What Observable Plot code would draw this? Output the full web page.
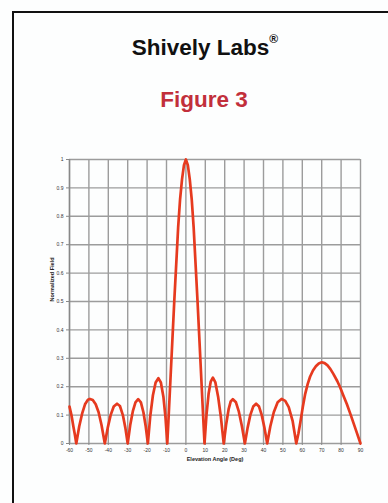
<!DOCTYPE html>
<html>
<head>
<meta charset="utf-8">
<script src="https://cdn.jsdelivr.net/npm/d3@7"></script>
<script src="https://cdn.jsdelivr.net/npm/@observablehq/plot@0.6"></script>
<style>
  html, body { margin:0; padding:0; background:#fdfefe; }
  body { width:388px; height:503px; position:relative; overflow:hidden; font-family:"Liberation Sans", Arial, sans-serif; }
  #frame { position:absolute; left:12px; top:11px; width:400px; height:520px; border-left:2px solid #111; border-top:2px solid #111; }
  #title { position:absolute; left:14px; width:374px; top:27px; text-align:center; font-weight:bold; font-size:22.5px; color:#111; line-height:30px; padding-left:8px; box-sizing:border-box; }
  #title sup { font-size:12px; position:relative; top:-3px; }
  #fig { position:absolute; left:14px; width:374px; top:86px; text-align:center; font-weight:bold; font-size:22.5px; color:#c22f3b; line-height:28px; padding-left:6px; box-sizing:border-box; }
  #chart { position:absolute; left:0; top:140px; }
</style>
</head>
<body>
<div id="frame"></div>
<div id="title">Shively Labs<sup>®</sup></div>
<div id="fig">Figure 3</div>
<div id="chart"></div>
<script>
const xTicks = [-60,-50,-40,-30,-20,-10,0,10,20,30,40,50,60,70,80,90];
const yTicks = [0,0.1,0.2,0.3,0.4,0.5,0.6,0.7,0.8,0.9,1];
const xLabel = "Elevation Angle (Deg)";
const yLabel = "Normalized Field";

const angle = [
  -60,-59,-58,-57.2,-56.5,
  -55,-53.5,-52,-50.5,-49.5,-48,-46.5,-45,-43.5,-41.8,
  -40.3,-38.8,-37.2,-35.5,-34,-32.5,-31.2,-30,
  -28.7,-27.3,-26,-24.6,-23.2,-21.9,-20.7,-19.6,
  -18.4,-17,-15.6,-14.2,-12.9,-11.6,-10.5,-9.6,
  -9,-8,-7,-6,-5,-4,-3,-2,-1,0,1,2,3,4,5,6,7,8,9,9.6,
  10.6,11.7,12.8,13.9,15.2,16.6,18,19.5,
  20.7,22,23.1,24.2,25.8,27.3,28.9,30.4,
  31.8,33.2,34.7,36.2,37.7,39.1,40.5,41.9,
  43.5,45.3,47.3,49.3,51.2,53,55,56.9,
  58,59,60.3,61.5,62.8,64,65.5,67,68.5,70,71.5,73,74.5,76,78,79.5,81,83,85,86.5,88,90
];
const field = [
  0.13,0.1,0.06,0.03,0,
  0.06,0.105,0.138,0.154,0.157,0.153,0.138,0.11,0.065,0,
  0.055,0.1,0.13,0.14,0.132,0.1,0.055,0,
  0.065,0.115,0.145,0.156,0.145,0.11,0.06,0,
  0.095,0.17,0.215,0.23,0.215,0.165,0.09,0,
  0.08,0.22,0.36,0.5,0.63,0.76,0.86,0.93,0.98,1.0,0.98,0.93,0.86,0.76,0.63,0.5,0.36,0.22,0.08,0,
  0.1,0.175,0.218,0.232,0.215,0.165,0.095,0,
  0.065,0.12,0.148,0.156,0.145,0.112,0.06,0,
  0.055,0.1,0.13,0.14,0.13,0.1,0.055,0,
  0.06,0.11,0.145,0.157,0.15,0.128,0.08,0,
  0.035,0.075,0.13,0.175,0.21,0.235,0.257,0.272,0.282,0.286,0.283,0.275,0.262,0.245,0.22,0.198,0.172,0.138,0.1,0.07,0.04,0
];
const data = angle.map((a, i) => ({angle: a, field: field[i]}));

const chart = Plot.plot({
  width: 388, height: 340,
  marginLeft: 69, marginRight: 28, marginTop: 19, marginBottom: 37,
  x: {domain: [-60, 90]},
  y: {domain: [0, 1]},
  style: {background: "transparent", fontFamily: "'Liberation Sans', Arial, sans-serif", color: "#333"},
  marks: [
    Plot.gridX(xTicks, {stroke: "#9c9c9c", strokeOpacity: 1, strokeWidth: 1.4}),
    Plot.gridY(yTicks, {stroke: "#9c9c9c", strokeOpacity: 1, strokeWidth: 1.4}),
    Plot.axisX(xTicks, {tickSize: 2, tickPadding: 3, fontSize: 5, label: null, stroke: "#888", fill: "#333", tickFormat: d => String(d)}),
    Plot.axisY(yTicks, {tickSize: 3, tickPadding: 3, fontSize: 5, label: null, stroke: "#888", fill: "#333", tickFormat: d => String(d)}),
    Plot.ruleX([-60], {stroke: "#888", strokeWidth: 1.4}),
    Plot.text([xLabel], {frameAnchor: "bottom", dy: 17, fontSize: 5.5, fontWeight: "bold", fill: "#222"}),
    Plot.text([yLabel], {frameAnchor: "left", rotate: -90, dx: -17, fontSize: 5.5, fontWeight: "bold", fill: "#222"}),
    Plot.line(data, {x: "angle", y: "field", stroke: "#e63a1f", strokeWidth: 2.7, strokeLinejoin: "round"})
  ]
});
document.getElementById("chart").appendChild(chart);
</script>
</body>
</html>
